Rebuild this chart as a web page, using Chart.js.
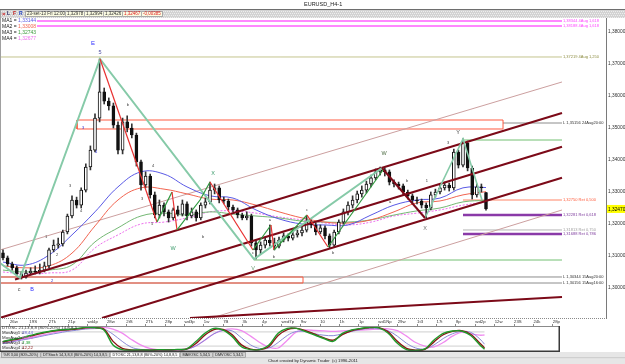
<!DOCTYPE html>
<html><head><meta charset="utf-8">
<script src="https://cdn.jsdelivr.net/npm/chart.js"></script>
<style>
html,body{margin:0;padding:0;background:#fff;overflow:hidden}
#wrap{position:relative;width:625px;height:364px}
#main{position:absolute;left:0;top:0;width:625px;height:364px}
#osc{position:absolute;left:0;top:318px;width:560px;height:34px}
</style></head><body>
<div id="wrap"><canvas id="main" width="625" height="364"></canvas><canvas id="osc" width="560" height="34"></canvas></div>
<script>
// ===== DATA =====
const opens = [1.3110,1.3094,1.3075,1.3063,1.3044,1.3034,1.3047,1.3053,1.3050,1.3056,
1.3069,1.3119,1.3134,1.3138,1.3175,1.3225,1.3275,1.3259,1.3306,1.3378,
1.3431,1.3531,1.3613,1.3584,1.3569,1.3509,1.3431,1.3519,1.3500,1.3478,
1.3394,1.3322,1.3350,1.3291,1.3228,1.3259,1.3238,1.3219,1.3244,1.3231,
1.3263,1.3225,1.3238,1.3219,1.3259,1.3269,1.3306,1.3313,1.3275,1.3272,
1.3253,1.3244,1.3228,1.3219,1.3225,1.3141,1.3119,1.3134,1.3150,1.3141,
1.3131,1.3150,1.3163,1.3156,1.3166,1.3172,1.3181,1.3206,1.3197,1.3175,
1.3188,1.3163,1.3134,1.3175,1.3206,1.3238,1.3259,1.3275,1.3294,1.3306,
1.3325,1.3344,1.3363,1.3369,1.3363,1.3331,1.3325,1.3319,1.3300,1.3288,
1.3275,1.3272,1.3259,1.3250,1.3291,1.3300,1.3313,1.3322,1.3313,1.3425,
1.3384,1.3453,1.3375,1.3291,1.3316,1.3298];
const highs = [1.3119,1.3100,1.3081,1.3069,1.3050,1.3056,1.3063,1.3069,1.3075,1.3081,
1.3125,1.3150,1.3156,1.3181,1.3231,1.3288,1.3284,1.3313,1.3388,1.3444,
1.3544,1.3716,1.3625,1.3594,1.3578,1.3519,1.3531,1.3538,1.3513,1.3484,
1.3400,1.3363,1.3356,1.3300,1.3275,1.3266,1.3244,1.3250,1.3256,1.3275,
1.3269,1.3250,1.3244,1.3266,1.3281,1.3331,1.3325,1.3319,1.3284,1.3278,
1.3259,1.3250,1.3234,1.3238,1.3231,1.3150,1.3144,1.3159,1.3197,1.3156,
1.3159,1.3172,1.3169,1.3175,1.3181,1.3194,1.3225,1.3213,1.3203,1.3197,
1.3194,1.3169,1.3181,1.3213,1.3247,1.3269,1.3288,1.3303,1.3319,1.3334,
1.3353,1.3372,1.3378,1.3375,1.3369,1.3338,1.3331,1.3325,1.3306,1.3294,
1.3284,1.3278,1.3266,1.3300,1.3309,1.3322,1.3331,1.3328,1.3434,1.3431,
1.3466,1.3459,1.3381,1.3325,1.3325,1.3299];
const lows = [1.3088,1.3069,1.3056,1.3038,1.3028,1.3031,1.3041,1.3044,1.3044,1.3050,
1.3063,1.3113,1.3125,1.3131,1.3169,1.3219,1.3250,1.3250,1.3300,1.3369,
1.3425,1.3519,1.3575,1.3556,1.3500,1.3419,1.3419,1.3488,1.3469,1.3381,
1.3306,1.3313,1.3281,1.3219,1.3219,1.3225,1.3206,1.3213,1.3225,1.3225,
1.3213,1.3219,1.3209,1.3213,1.3250,1.3263,1.3294,1.3266,1.3263,1.3244,
1.3238,1.3219,1.3213,1.3213,1.3131,1.3091,1.3106,1.3125,1.3131,1.3119,
1.3125,1.3144,1.3147,1.3150,1.3159,1.3163,1.3175,1.3188,1.3166,1.3169,
1.3153,1.3125,1.3128,1.3169,1.3200,1.3228,1.3250,1.3266,1.3284,1.3297,
1.3316,1.3338,1.3353,1.3350,1.3322,1.3316,1.3309,1.3291,1.3278,1.3266,
1.3263,1.3250,1.3219,1.3244,1.3284,1.3294,1.3306,1.3303,1.3306,1.3375,
1.3378,1.3366,1.3278,1.3284,1.3300,1.3243];
const closes = [1.3094,1.3075,1.3063,1.3044,1.3034,1.3047,1.3053,1.3050,1.3056,1.3069,
1.3119,1.3134,1.3138,1.3175,1.3225,1.3275,1.3259,1.3306,1.3378,1.3431,
1.3531,1.3613,1.3584,1.3569,1.3509,1.3431,1.3519,1.3500,1.3478,1.3394,
1.3322,1.3350,1.3291,1.3228,1.3259,1.3238,1.3219,1.3244,1.3231,1.3263,
1.3225,1.3238,1.3219,1.3259,1.3269,1.3306,1.3313,1.3275,1.3272,1.3253,
1.3244,1.3228,1.3219,1.3225,1.3141,1.3119,1.3134,1.3150,1.3141,1.3131,
1.3150,1.3163,1.3156,1.3166,1.3172,1.3181,1.3206,1.3197,1.3175,1.3188,
1.3163,1.3134,1.3175,1.3206,1.3238,1.3259,1.3275,1.3294,1.3306,1.3325,
1.3344,1.3363,1.3369,1.3363,1.3331,1.3325,1.3319,1.3300,1.3288,1.3275,
1.3272,1.3259,1.3250,1.3291,1.3300,1.3313,1.3322,1.3313,1.3425,1.3384,
1.3453,1.3375,1.3291,1.3316,1.3313,1.3247];

const maBars = [0,5,10,15,20,25,30,35,40,45,50,55,60,65,70,75,80,85,90,95,100,105];
const ma1 = [1.3081,1.3072,1.3103,1.3166,1.3238,1.3316,1.3363,1.3356,1.3316,1.3288,1.3281,1.3244,1.3216,1.3200,1.3197,1.3197,1.3228,1.3259,1.3275,1.3281,1.3313,1.3314];
const ma2 = [1.3069,1.3063,1.3069,1.3109,1.3194,1.3275,1.3313,1.3309,1.3294,1.3278,1.3275,1.3259,1.3238,1.3219,1.3206,1.3203,1.3213,1.3238,1.3266,1.3272,1.3291,1.3301];
const ma3 = [1.3056,1.3050,1.3056,1.3072,1.3144,1.3188,1.3225,1.3234,1.3228,1.3238,1.3231,1.3225,1.3219,1.3209,1.3206,1.3206,1.3213,1.3228,1.3241,1.3250,1.3269,1.3274];
const ma4 = [1.3050,1.3044,1.3047,1.3056,1.3125,1.3166,1.3200,1.3206,1.3219,1.3238,1.3241,1.3234,1.3222,1.3213,1.3203,1.3197,1.3206,1.3225,1.3234,1.3244,1.3259,1.3268];
const maNames = ['MA1','MA2','MA3','MA4'];
const maLegendValues = ['1,33144','1,33008','1,32743','1,32677'];

const priceTicks = [1.30,1.31,1.32,1.33,1.34,1.35,1.36,1.37,1.38];
const dateLabels = ['26w','19S','2Tk','21p','wd4p','28w','2tS','2Tk','28p','wd3p','1w','7B','3k','4p','wed7p','9w','10','1h','1p','wd1Np','29w','1t3','17t','8p','wd2p','12w','23S','24k','28p'];

const levelPrices = [1.38344,1.38188,1.37219,1.35156,1.34625,1.32750,1.32281,1.31813,1.31688,1.30875,1.30344,1.30156];
const levelStartBars = [7.39,7.39,-0.65,108.7,100.0,100.0,100.0,100.0,100.0,54.57,-0.65,-0.65];
const levelNotes = ['4Aug 1,618','4Aug 1,618','4Aug 1,250','24Aug20:00','','Ret 0,500','Ret 0,618','Ret 0,750','Ret 0,786','','15Aug20:00','15Aug16:00'];
const levelEndBar = 121.52;

const rectStartBars = [16.09,-0.65];
const rectEndBars = [108.7,65.22];
const rectLowPrices = [1.34969,1.30156];
const rectHighPrices = [1.35250,1.30344];

const trendStartBars = [2.61,-0.65,21.52,40.65,-0.65,45.43];
const trendStartPrices = [1.30263,1.29066,1.29063,1.29063,1.31188,1.29063];
const trendEndBars = [121.52,121.52,121.52,121.52,121.52,121.52];
const trendEndPrices = [1.35469,1.34416,1.33444,1.29719,1.36438,1.32438];

const majorWaveBars = [-0.65,3.70,21.09,54.57,82.39];
const majorWavePrices = [1.30781,1.30313,1.37156,1.30906,1.33750];
const lateWaveBars = [91.74,100.0,104.13];
const lateWavePrices = [1.32188,1.34660,1.32750];
const wxBars = [82.39,91.74];
const wxPrices = [1.33750,1.32188];
const minorWaveBars = [21.09,33.48,36.74,37.83,42.83,45.0,54.35,58.26,58.91,66.09,70.65,82.61];
const minorWavePrices = [1.37156,1.32063,1.33000,1.31813,1.32750,1.33313,1.31188,1.31969,1.31188,1.32281,1.31281,1.33688];

const waveText = ['E','5','B','c','W','X','V','W','X','Y','c','a','b','c','b','1','2','3','4','3','4','2','b','4','3','5','b','b','1','3','4','a'];
const waveBar = [19.57,21.09,6.30,3.48,36.96,45.65,54.35,82.83,91.74,98.91,54.35,58.04,58.91,66.09,71.74,9.35,11.74,14.57,16.96,17.39,20.22,10.65,27.17,32.61,30.22,32.39,43.48,87.83,92.17,96.74,98.91,84.13];
const wavePrice = [1.37656,1.37375,1.29969,1.29969,1.3125,1.33594,1.30625,1.34219,1.31875,1.34875,1.31094,1.32125,1.30969,1.32438,1.31094,1.31594,1.31031,1.33188,1.32406,1.35,1.3425,1.30219,1.35719,1.33813,1.32781,1.32,1.31594,1.33344,1.33344,1.34531,1.33906,1.32688];

const oscBars = [0,2,4,6,8,10,12,14,16,18,20,22,24,26,28,30,32,34,36,38,40,42,44,46,48,50,52,54,56,58,60,62,64,66,68,70,72,74,76,78,80,82,84,86,88,90,92,94,96,98,100,102,104,105];
const oscFast = [40,48,55,65,75,82,88,90,94,99,98,88,25,5,3,4,3,5,4,6,8,38,74,95,88,60,17,5,5,25,74,95,95,81,67,52,40,74,88,95,100,97,74,32,5,2,8,46,74,84,84,65,25,7];
const oscFastSig = [38,45,53,62,72,80,86,89,92,97,98,92,40,10,4,3,3,4,4,5,7,30,66,90,90,68,25,7,5,18,65,90,95,85,70,55,45,68,85,93,98,98,80,40,10,3,6,38,68,82,85,70,32,12];
const oscMid = [30,38,45,52,60,68,75,82,87,92,94,92,70,40,15,6,4,4,5,5,6,20,45,72,86,84,55,25,10,12,35,65,82,81,72,66,64,72,82,90,95,93,85,62,32,12,8,25,52,72,82,78,50,28];
const oscSlow = [35,40,48,56,64,72,80,87,92,96,99,99,92,75,48,25,10,4,3,4,8,20,45,72,88,93,85,62,35,15,12,45,80,88,86,84,82,84,86,88,90,92,93,85,62,35,20,17,35,62,78,72,66,67];
const oscLevels = [80,20];
const oscTitle = 'DTOSC 21,13,8,8 (80%-20%) 14,8,8,5';
const oscLegendNames = ['MovAvg1','MovAvg2','MovAvg3','MovAvg4'];
const oscLegendValues = ['28,44','66,70','7,38','12,22'];

const quoteFields = ['23-set-13 Fri 12:00','1,32978','1,32994','1,32426','1,32467','-0,00385'];
const statusTabs = ['%R 3,00 (80%-20%)','DTStoch 14,3,8,3 (80%-20%) 14,3,8,5','DTOSC 21,13,8,8 (80%-20%) 14,8,8,5','MAVOSC 5,34,5','DMVOSC 5,34,5'];
const chartTitle = 'EURUSD_H4-1';
const creditText = 'Chart created by Dynamic Trader  (c) 1996-2011';

// ===== STYLES / LAYOUT =====
const FONT = '"Liberation Sans", Arial, sans-serif';
const X_MIN = -0.652, X_MAX_MAIN = 131.087, X_MAX_OSC = 121.087;
const Y_MIN = 1.290625, Y_MAX = 1.384375;
const dateTickStart = 1.52, dateTickStep = 4.228;
const levelStyle = [
 {c:'#ff88ff',w:2,t:'#ff44ff'},{c:'#ff88ff',w:2,t:'#ff44ff'},{c:'#c4c48e',w:1,t:'#8c8c40'},
 {c:'#8c8c8c',w:1,t:'#303030'},{c:'#72c072',w:1,t:null},{c:'#ff8466',w:1,t:'#ff5a3a'},
 {c:'#8a3aa8',w:2.5,t:'#8040a0'},{c:'#b4b4b4',w:1,t:'#a0a0a0'},{c:'#8a3aa8',w:2.5,t:'#8040a0'},
 {c:'#72c072',w:1,t:null},{c:'#8c8c8c',w:1,t:'#303030'},{c:'#8c8c8c',w:1,t:'#303030'}];
const trendStyle = [
 {c:'#7c0a18',w:2.1},{c:'#7c0a18',w:2.1},{c:'#7c0a18',w:2.1},{c:'#7c0a18',w:2.1},{c:'#cc9f9f',w:1},{c:'#cc9f9f',w:1}];
const maColors = ['#5a5ae6','#f26450','#74b874','#ee70ee'];
const waveColors = ['#2d2dff','#5050a0','#2d2dff','#505050','#3a9a6a','#3a9a6a','#6a9a70','#4a6a40','#707070','#404040'];
const fmt = (v,d) => v.toFixed(d).replace('.', ',');

function T(ctx, s, x, y, col, size, o) {
  o = o || {};
  ctx.save();
  ctx.font = (o.bold ? 'bold ' : '') + size + 'px ' + FONT;
  ctx.fillStyle = col; ctx.textAlign = o.align || 'left'; ctx.textBaseline = o.base || 'middle';
  ctx.fillText(s, x, y); ctx.restore();
}
const pts = (xs, ys) => xs.map((x, i) => ({x: x, y: ys[i]}));
const line = (data, color, width, order, extra) => Object.assign({type:'line', data, borderColor:color, borderWidth:width, pointRadius:0, fill:false, tension:0, order}, extra || {});

// ===== MAIN CHART =====
const ds = [];
levelPrices.forEach((p, i) => ds.push(line([{x:levelStartBars[i], y:p},{x:levelEndBar, y:p}], levelStyle[i].c, levelStyle[i].w, 70)));
rectStartBars.forEach((b, i) => ds.push(line([
  {x:b,y:rectLowPrices[i]},{x:rectEndBars[i],y:rectLowPrices[i]},{x:rectEndBars[i],y:rectHighPrices[i]},{x:b,y:rectHighPrices[i]},{x:b,y:rectLowPrices[i]}],
  '#ff5a40', 1, 68)));
trendStartBars.forEach((b, i) => ds.push(line([{x:b,y:trendStartPrices[i]},{x:trendEndBars[i],y:trendEndPrices[i]}], trendStyle[i].c, trendStyle[i].w, trendStyle[i].w > 1 ? 30 : 65)));
ds.push(line(pts(maBars, ma4), maColors[3], 1, 50, {tension:0.4, borderDash:[2,1.5]}));
ds.push(line(pts(maBars, ma3), maColors[2], 1, 49, {tension:0.4}));
ds.push(line(pts(maBars, ma2), maColors[1], 1, 48, {tension:0.4}));
ds.push(line(pts(maBars, ma1), maColors[0], 1, 47, {tension:0.4}));
const idx = closes.map((_, i) => i);
ds.push({type:'bar', data: idx.map(i => ({x:i, y:[lows[i], highs[i]]})), backgroundColor:'#333333', borderWidth:0, barThickness:1, maxBarThickness:1, grouped:false, order:40});
ds.push({type:'bar', data: idx.map(i => ({x:i, y:[opens[i], closes[i]]})), backgroundColor: idx.map(i => closes[i] >= opens[i] ? '#ffffff' : '#111111'),
  borderColor:'#111111', borderWidth:1, borderSkipped:false, barThickness:3, maxBarThickness:3, minBarLength:1, grouped:false, order:39});
ds.push(line(pts(majorWaveBars, majorWavePrices), '#86caa8', 2, 20));
ds.push(line(pts(lateWaveBars, lateWavePrices), '#86caa8', 1.6, 20));
ds.push(line(pts(wxBars, wxPrices), '#7c0a18', 2, 19));
ds.push(line(pts(minorWaveBars, minorWavePrices), '#e83030', 1.2, 18, {segment:{borderColor: c => c.p1.parsed.y > c.p0.parsed.y ? '#2f9a3f' : '#e83030'}}));

const mainDeco = {
  id:'mainDeco',
  beforeDraw(chart) {
    const c = chart.ctx; c.save(); c.fillStyle = '#ffffff'; c.fillRect(0,0,625,364); c.restore();
  },
  afterDraw(chart) {
    const c = chart.ctx, xs = chart.scales.x, ys = chart.scales.y;
    c.fillStyle = '#ffffff'; c.fillRect(0,0,625,9);
    T(c, chartTitle, 304, 4.5, '#1a1a1a', 5.5);
    c.fillStyle = '#6e6e6e'; c.fillRect(0,9,625,1);
    c.fillStyle = '#d2d2d2'; c.fillRect(0,10,625,8);
    c.fillStyle = '#ededed';
    for (let y = 11; y < 18; y += 2) for (let x = (y % 4 === 1 ? 0 : 1); x < 625; x += 2) c.fillRect(x, y, 1, 1);
    T(c, '×', 2, 14, '#d02020', 6, {bold:true});
    T(c, 'L', 7, 14, '#202060', 5, {bold:true});
    T(c, 'F', 13, 14, '#c02020', 5, {bold:true});
    T(c, 'R', 19, 14, '#2040c0', 5, {bold:true});
    c.fillStyle = '#fbfbe2'; c.fillRect(25,11,138,6);
    c.strokeStyle = '#a8a8a8'; c.lineWidth = 1; c.strokeRect(25.5,11.5,137,5);
    const qx = [27,67,86,105,124,143];
    quoteFields.forEach((s, i) => {
      T(c, s, qx[i], 14.2, i >= 4 ? '#e02020' : '#303030', 4.5);
      if (i > 0) { c.fillStyle = '#b0b0b0'; c.fillRect(qx[i]-2, 11, 1, 6); }
    });
    maNames.forEach((n, i) => {
      const y = 21 + i * 6;
      T(c, n + ' = ', 2, y, '#202020', 5);
      T(c, maLegendValues[i], 18, y, maColors[i] === '#74b874' ? '#3a9a3a' : maColors[i], 5);
    });
    levelPrices.forEach((p, i) => {
      if (!levelNotes[i] || !levelStyle[i].t) return;
      const pre = /Aug\d/.test(levelNotes[i]) ? 'L ' : '';
      T(c, pre + fmt(p,5) + ' ' + levelNotes[i], 563, ys.getPixelForValue(p), levelStyle[i].t, 4);
    });
    waveText.forEach((s, i) => {
      const big = i < 10;
      const col = big ? waveColors[i] : (i >= 19 && i <= 21 ? '#3030d0' : '#3a3a3a');
      T(c, s, xs.getPixelForValue(waveBar[i]), ys.getPixelForValue(wavePrice[i]), col, big ? (i === 0 ? 6 : 5.5) : 4, {align:'center'});
    });
    const last = closes[closes.length-1], py = ys.getPixelForValue(last);
    c.fillStyle = '#ffff00'; c.fillRect(607, py-4, 18, 8);
    T(c, fmt(last,5), 608, py+0.5, '#000000', 4.8);
    c.fillStyle = '#a0a0a0'; c.fillRect(0,10,1,342);
    c.fillStyle = '#8a8a8a';
    for (let x = 0; x < 606; x += 2) c.fillRect(x, 318, 1, 1);
    c.fillStyle = '#e6e6e6'; c.fillRect(0,352,625,12);
    c.fillStyle = '#b8b8b8'; c.fillRect(0,357.5,625,0.6);
    c.font = '3.8px ' + FONT;
    let tx = 1;
    statusTabs.forEach((s, i) => {
      const w = c.measureText(s).width + 5;
      c.fillStyle = i === 2 ? '#ffffff' : '#d4d4d4'; c.fillRect(tx, 352, w, 5.5);
      c.strokeStyle = '#8c8c8c'; c.lineWidth = 0.6; c.strokeRect(tx+0.3, 352.3, w-0.6, 5);
      T(c, s, tx + 2.5, 355, '#202020', 3.8);
      tx += w;
    });
    T(c, creditText, 268, 361, '#202020', 4.2);
  }
};

new Chart(document.getElementById('main'), {
  type:'line',
  data:{datasets: ds},
  options:{
    responsive:false, animation:false, devicePixelRatio:1, events:[],
    layout:{autoPadding:false, padding:{top:18, bottom:46, left:0, right:0}},
    plugins:{legend:{display:false}, tooltip:{enabled:false}, title:{display:false}},
    scales:{
      x:{type:'linear', min:X_MIN, max:X_MAX_MAIN, display:false, offset:false},
      y:{type:'linear', position:'right', min:Y_MIN, max:Y_MAX,
         afterBuildTicks: s => { s.ticks = priceTicks.map(v => ({value:v})); },
         afterFit: s => { s.width = 19; },
         grid:{display:false, drawTicks:false, tickLength:0},
         border:{display:true, color:'#7a7a7a', width:1},
         ticks:{font:{size:4.8, family:FONT}, color:'#303030', padding:2, autoSkip:false, callback: v => fmt(v,5)}}
    }
  },
  plugins:[mainDeco]
});

// ===== OSCILLATOR CHART =====
const ods = [];
oscLevels.forEach(l => ods.push(line([{x:0,y:l},{x:closes.length-1,y:l}], '#cfcfcf', 1, 60)));
ods.push(line(pts(oscBars, oscSlow), '#f08cf0', 1.3, 50, {tension:0.35}));
ods.push(line(pts(oscBars, oscMid), '#8a8ad6', 1, 49, {tension:0.35}));
ods.push(line(pts(oscBars, oscFastSig), '#8c1414', 1.4, 48, {tension:0.35}));
ods.push(line(pts(oscBars, oscFast), '#1f9a2a', 1.4, 47, {tension:0.35}));
const oscColors = ['#6060d0','#e060e0','#20a030','#8c1414'];
const oscDeco = {
  id:'oscDeco',
  afterDraw(chart) {
    const c = chart.ctx, a = chart.chartArea;
    c.save();
    c.strokeStyle = '#8a8a8a'; c.lineWidth = 1;
    c.strokeRect(0.5, a.top + 0.5, 559, a.bottom - a.top - 1);
    c.fillStyle = '#3a3a3a'; c.fillRect(0, a.bottom - 1.5, 560, 1.5); c.fillRect(558.5, a.top, 1.5, a.bottom - a.top);
    c.restore();
    T(c, oscTitle, 2, a.top + 2, '#303030', 4.4);
    oscLegendNames.forEach((n, i) => {
      const y = a.top + 7.2 + i * 5;
      T(c, n + ' = ', 2, y, '#303030', 4.4);
      T(c, oscLegendValues[i], 22, y, oscColors[i], 4.4);
    });
  }
};
new Chart(document.getElementById('osc'), {
  type:'line',
  data:{datasets: ods},
  options:{
    responsive:false, animation:false, devicePixelRatio:1, events:[],
    layout:{autoPadding:false, padding:0},
    plugins:{legend:{display:false}, tooltip:{enabled:false}},
    scales:{
      x:{type:'linear', position:'top', min:X_MIN, max:X_MAX_OSC, offset:false,
         afterBuildTicks: s => { s.ticks = dateLabels.map((_, k) => ({value: dateTickStart + dateTickStep * k})); },
         afterFit: s => { s.height = 8; },
         grid:{display:true, drawOnChartArea:false, drawTicks:true, tickLength:2, color:'#8a8a8a'},
         border:{display:true, color:'#8a8a8a'},
         ticks:{autoSkip:false, maxRotation:0, minRotation:0, align:'start', padding:0, font:{size:4.3, family:FONT}, color:'#303030',
                callback: (v, i) => dateLabels[i]}},
      y:{type:'linear', display:false, min:-5, max:105}
    }
  },
  plugins:[oscDeco]
});
</script></body></html>
